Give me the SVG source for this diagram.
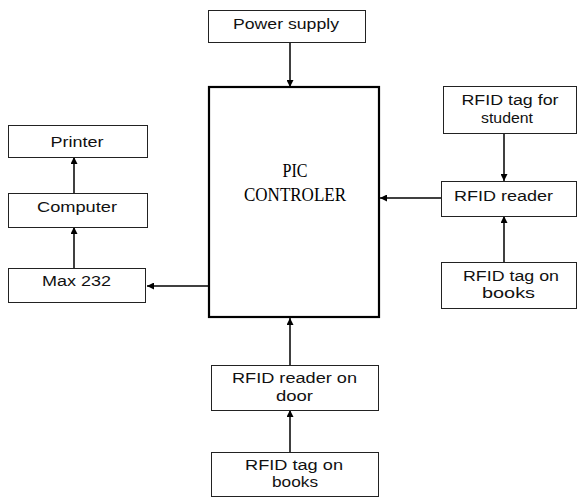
<svg xmlns="http://www.w3.org/2000/svg" width="577" height="498" viewBox="0 0 577 498">
  <style>
    .box { fill: #ffffff; stroke: #222222; stroke-width: 1; }
    .main { fill: #ffffff; stroke: #000000; stroke-width: 2.2; }
    .lbl { font-family: "Liberation Sans", Arial, sans-serif; font-size: 14px; fill: #111111; text-anchor: middle; }
    .ser { font-family: "Liberation Serif", "Times New Roman", serif; font-size: 19px; fill: #000000; text-anchor: middle; }
    .wire { stroke: #000000; stroke-width: 1.5; fill: none; marker-end: url(#head); }
  </style>
  <defs>
    <marker id="head" viewBox="0 0 10 10" refX="10" refY="5" markerWidth="7" markerHeight="7" markerUnits="userSpaceOnUse" orient="auto">
      <path d="M0,0 L10,5 L0,10 Z" fill="#000000"/>
    </marker>
  </defs>

  <g id="connectors">
    <line class="wire" x1="290" y1="42" x2="290" y2="87"/>
    <line class="wire" x1="504" y1="133" x2="504" y2="181"/>
    <line class="wire" x1="504" y1="262" x2="504" y2="216"/>
    <line class="wire" x1="441" y1="198" x2="380" y2="198"/>
    <line class="wire" x1="208" y1="286" x2="147" y2="286"/>
    <line class="wire" x1="74" y1="268" x2="74" y2="227"/>
    <line class="wire" x1="74" y1="193" x2="74" y2="157"/>
    <line class="wire" x1="290" y1="365" x2="290" y2="318"/>
    <line class="wire" x1="290" y1="452" x2="290" y2="410"/>
  </g>

  <g id="power-supply">
    <rect class="box" x="208.5" y="10.5" width="157" height="32"/>
    <text class="lbl" x="286" y="29" textLength="106" lengthAdjust="spacingAndGlyphs">Power supply</text>
  </g>

  <g id="pic-controller">
    <rect class="main" x="209" y="87" width="170" height="230"/>
    <text class="ser" x="295" y="177" textLength="25" lengthAdjust="spacingAndGlyphs">PIC</text>
    <text class="ser" x="295" y="201" textLength="102" lengthAdjust="spacingAndGlyphs">CONTROLER</text>
  </g>

  <g id="printer">
    <rect class="box" x="8.5" y="125.5" width="139" height="32"/>
    <text class="lbl" x="77" y="147" textLength="53" lengthAdjust="spacingAndGlyphs">Printer</text>
  </g>

  <g id="computer">
    <rect class="box" x="8.5" y="193.5" width="139" height="34"/>
    <text class="lbl" x="77" y="212" textLength="80" lengthAdjust="spacingAndGlyphs">Computer</text>
  </g>

  <g id="max232">
    <rect class="box" x="8.5" y="268.5" width="137" height="34"/>
    <text class="lbl" x="76.5" y="286" textLength="69" lengthAdjust="spacingAndGlyphs">Max 232</text>
  </g>

  <g id="rfid-tag-student">
    <rect class="box" x="443.5" y="86.5" width="133" height="47"/>
    <text class="lbl" x="510" y="105" textLength="97" lengthAdjust="spacingAndGlyphs">RFID tag for</text>
    <text class="lbl" x="507" y="123" textLength="52" lengthAdjust="spacingAndGlyphs">student</text>
  </g>

  <g id="rfid-reader">
    <rect class="box" x="441.5" y="181.5" width="135" height="35"/>
    <text class="lbl" x="503.5" y="201" textLength="99" lengthAdjust="spacingAndGlyphs">RFID reader</text>
  </g>

  <g id="rfid-tag-books-right">
    <rect class="box" x="441.5" y="262.5" width="135" height="46"/>
    <text class="lbl" x="511" y="281" textLength="96" lengthAdjust="spacingAndGlyphs">RFID tag on</text>
    <text class="lbl" x="508.5" y="298" textLength="53" lengthAdjust="spacingAndGlyphs">books</text>
  </g>

  <g id="rfid-reader-door">
    <rect class="box" x="211.5" y="365.5" width="167" height="45"/>
    <text class="lbl" x="294.5" y="383" textLength="125" lengthAdjust="spacingAndGlyphs">RFID reader on</text>
    <text class="lbl" x="294.5" y="401" textLength="37" lengthAdjust="spacingAndGlyphs">door</text>
  </g>

  <g id="rfid-tag-books-bottom">
    <rect class="box" x="211.5" y="452.5" width="167" height="44"/>
    <text class="lbl" x="294" y="470" textLength="98" lengthAdjust="spacingAndGlyphs">RFID tag on</text>
    <text class="lbl" x="295" y="487" textLength="46" lengthAdjust="spacingAndGlyphs">books</text>
  </g>
</svg>
